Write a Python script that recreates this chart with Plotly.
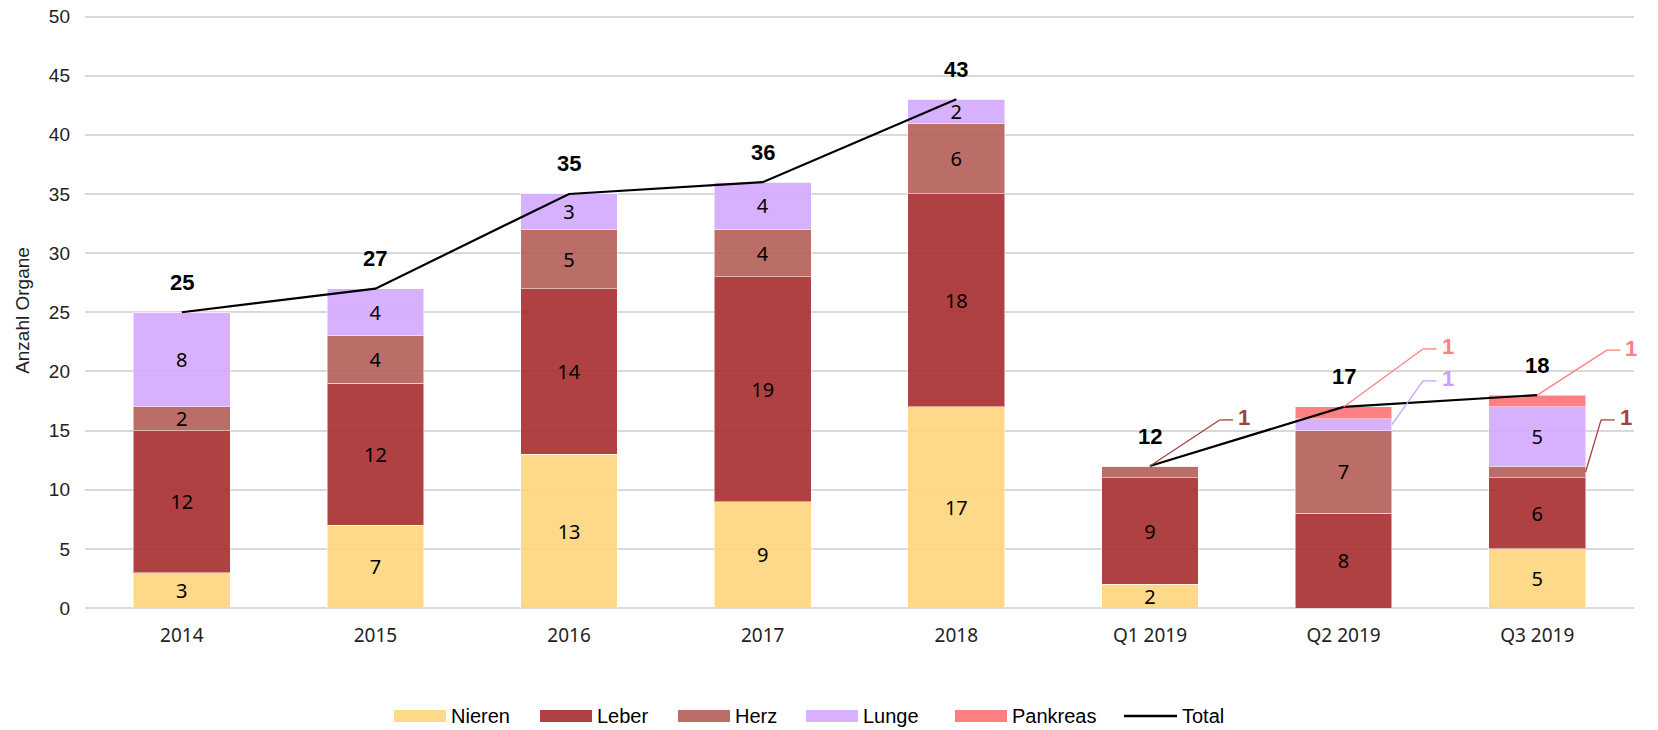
import plotly.graph_objects as go

categories = ["2014", "2015", "2016", "2017", "2018", "Q1 2019", "Q2 2019", "Q3 2019"]
nieren = [3, 7, 13, 9, 17, 2, 0, 5]
leber = [12, 12, 14, 19, 18, 9, 8, 6]
herz = [2, 4, 5, 4, 6, 1, 7, 1]
lunge = [8, 4, 3, 4, 2, 0, 1, 5]
pankreas = [0, 0, 0, 0, 0, 0, 1, 1]
total = [25, 27, 35, 36, 43, 12, 17, 18]
y_ticks = [0, 5, 10, 15, 20, 25, 30, 35, 40, 45, 50]

series = [
    ("Nieren", nieren, "rgba(255,213,125,0.9)"),
    ("Leber", leber, "rgba(167,44,45,0.9)"),
    ("Herz", herz, "rgba(179,94,86,0.9)"),
    ("Lunge", lunge, "rgba(212,169,254,0.9)"),
    ("Pankreas", pankreas, "rgba(255,114,116,0.9)"),
]

LABEL_FONT = "Noto Sans"
AX_FONT = "Liberation Sans"

# body margin is removed by a post script, so the figure fills the window
OFF = 0
W, H = 1658 - OFF, 730 - OFF
# screen: y=0 at 608, y=50 at 17 -> 11.82 px per unit; extend range a bit so the 50 gridline shows
YMAX = 50.3
UNIT = (608 - 17) / 50
top_screen = 17 - (YMAX - 50) * UNIT
L, R, B = 85 - OFF, 24, 122
T = top_screen - OFF
PW, PH = W - L - R, H - T - B


def px_to_paper(px, py):
    # px, py in screen pixels
    return (px - OFF - L) / PW, (H - B - (py - OFF)) / PH


fig = go.Figure()
for name, vals, col in series:
    fig.add_trace(go.Bar(
        x=categories, y=vals, name=name,
        marker=dict(color=col, line=dict(color="rgba(255,255,255,0.5)", width=1)),
        text=[str(v) if v > 1 else "" for v in vals],
        textposition="inside", insidetextanchor="middle", textangle=0,
        constraintext="none",
        textfont=dict(family=LABEL_FONT, size=20, color="black"),
        hoverinfo="skip", showlegend=False,
    ))

# Total line: yearly part and quarterly part are separate
fig.add_trace(go.Scatter(x=categories[:5], y=total[:5], name="Total", mode="lines",
                         line=dict(color="black", width=2.2), showlegend=False))
fig.add_trace(go.Scatter(x=categories[5:], y=total[5:], name="Total", mode="lines",
                         line=dict(color="black", width=2.2), showlegend=False))

# total labels
for i, t in enumerate(total):
    fig.add_annotation(x=i, y=t, text=f"<b>{t}</b>", showarrow=False,
                       yshift=30, font=dict(family=AX_FONT, size=22, color="black"))

# callouts for small segments
callouts = [
    (5, 0.0, 12, 0.36, 15.9, 0.43, "#A5403D", herz[5]),
    (6, 0.0, 17, 0.41, 21.9, 0.48, "#FF8082", pankreas[6]),
    (6, 0.25, 15.5, 0.41, 19.2, 0.48, "#C9A0FF", lunge[6]),
    (7, 0.0, 18, 0.36, 21.8, 0.43, "#FF8082", pankreas[7]),
    (7, 0.25, 11.5, 0.33, 15.9, 0.40, "#A5403D", herz[7]),
]
for idx, sx, sy, ex, ey, stx, col, val in callouts:
    fig.add_shape(type="line", xref="x", yref="y", x0=idx + sx, y0=sy, x1=idx + ex, y1=ey,
                  line=dict(color=col, width=1.3))
    fig.add_shape(type="line", xref="x", yref="y", x0=idx + ex, y0=ey, x1=idx + stx, y1=ey,
                  line=dict(color=col, width=1.3))
    fig.add_annotation(x=idx + stx, y=ey, text=f"<b>{val}</b>", showarrow=False,
                       xanchor="left", xshift=3, yshift=2,
                       font=dict(family=AX_FONT, size=22, color=col))

# manual legend (wide swatches like the reference), positions in screen pixels
legend_items = [
    ("Nieren", series[0][2], 394, 446, 451, "box"),
    ("Leber", series[1][2], 540, 592, 597, "box"),
    ("Herz", series[2][2], 678, 730, 735, "box"),
    ("Lunge", series[3][2], 806, 858, 863, "box"),
    ("Pankreas", series[4][2], 955, 1007, 1012, "box"),
    ("Total", "black", 1124, 1177, 1182, "line"),
]
ly = 716
for name, col, x0, x1, tx, kind in legend_items:
    px0, py0 = px_to_paper(x0, ly - 6)
    px1, py1 = px_to_paper(x1, ly + 6)
    if kind == "box":
        fig.add_shape(type="rect", xref="paper", yref="paper", x0=px0, x1=px1, y0=py1, y1=py0,
                      fillcolor=col, line=dict(width=0))
    else:
        _, pym = px_to_paper(x0, ly)
        fig.add_shape(type="line", xref="paper", yref="paper", x0=px0, x1=px1, y0=pym, y1=pym,
                      line=dict(color=col, width=2.5))
    ptx, pty = px_to_paper(tx, ly)
    fig.add_annotation(xref="paper", yref="paper", x=ptx, y=pty, text=name, showarrow=False,
                       xanchor="left", yanchor="middle", xshift=-2,
                       font=dict(family=AX_FONT, size=20, color="black"))

fig.update_layout(
    width=W, height=H,
    barmode="stack", bargap=0.5,
    plot_bgcolor="white", paper_bgcolor="white",
    margin=dict(l=L, r=R, t=T, b=B, autoexpand=False),
    font=dict(family=AX_FONT, size=16, color="#222"),
    showlegend=False,
    xaxis=dict(type="category", range=[-0.5, 7.5], showgrid=False, showline=False,
               ticks="", ticklabelstandoff=14,
               tickfont=dict(family=LABEL_FONT, size=19, color="#222")),
    yaxis=dict(range=[0, YMAX], tickvals=y_ticks,
               showgrid=True, gridcolor="#D9D9D9", gridwidth=1.5,
               zeroline=True, zerolinecolor="#D9D9D9", zerolinewidth=1.5,
               ticks="", ticklabelstandoff=14, automargin=False,
               ticklabeloverflow="allow",
               tickfont=dict(family=AX_FONT, size=19, color="#222"),
               title=dict(text="Anzahl Organe", standoff=14,
                          font=dict(family=AX_FONT, size=19, color="#222"))),
)

fig.write_html("out.html", config={"displayModeBar": False},
               post_script="document.body.style.margin='0';document.body.style.overflow='hidden';")
